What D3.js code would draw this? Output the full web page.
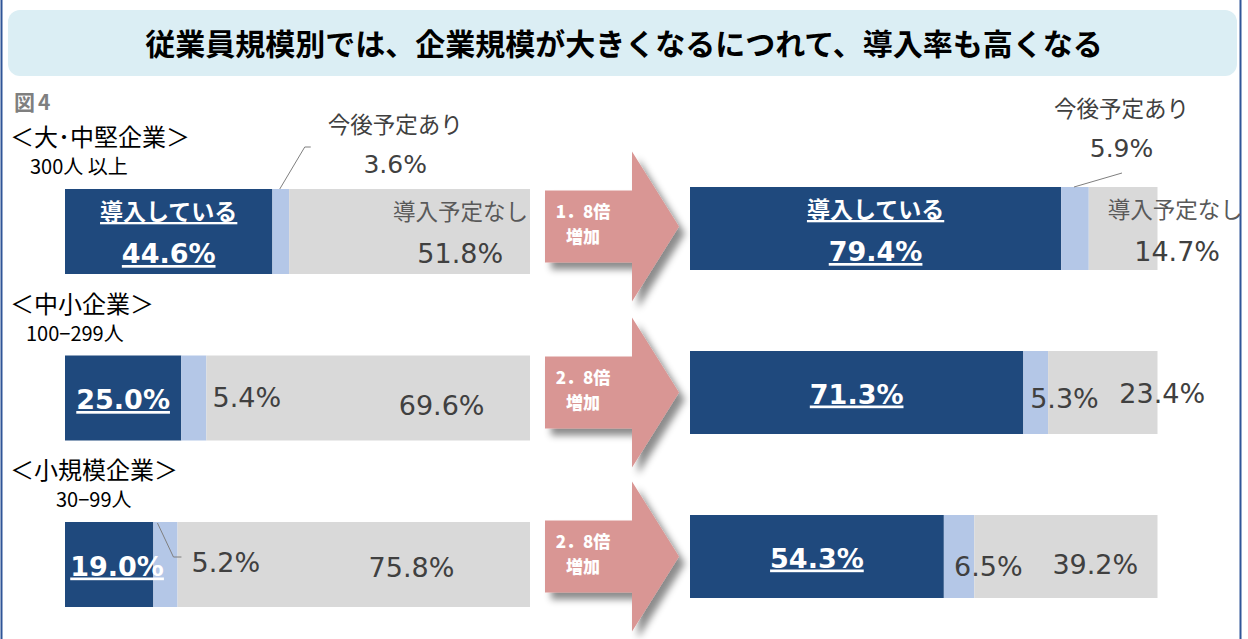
<!DOCTYPE html>
<html>
<head>
<meta charset="utf-8">
<script src="https://cdn.jsdelivr.net/npm/d3@7"></script>
<style>
  body { margin: 0; background: #fff; }
  svg { display: block; font-family: "Noto Sans CJK JP", sans-serif; }
</style>
</head>
<body>
<script>
// chart values
const title = '従業員規模別では、企業規模が大きくなるにつれて、導入率も高くなる';
const categories = ['＜大･中堅企業＞', '＜中小企業＞', '＜小規模企業＞'];
const sizes = ['300人 以上', '100−299人', '30−99人'];
const segments = ['導入している', '今後予定あり', '導入予定なし'];
const before = [[44.6, 3.6, 51.8], [25.0, 5.4, 69.6], [19.0, 5.2, 75.8]];
const after = [[79.4, 5.9, 14.7], [71.3, 5.3, 23.4], [54.3, 6.5, 39.2]];
const ratios = ['1．8倍', '2．8倍', '2．8倍'];

const W = 1248, H = 639;
const colors = ['#1f497d', '#b4c7e7', '#d9d9d9'];
const numFont = '"DejaVu Sans", sans-serif';
const fmt = v => d3.format('.1f')(v) + '%';

const svg = d3.select('body').append('svg')
  .attr('width', W).attr('height', H);

const defs = svg.append('defs');
const shadow = defs.append('filter').attr('id', 'shadow')
  .attr('x', '-20%').attr('y', '-20%').attr('width', '150%').attr('height', '150%');
shadow.append('feDropShadow')
  .attr('dx', 6).attr('dy', 7).attr('stdDeviation', 3.5)
  .attr('flood-color', '#000').attr('flood-opacity', 0.45);

// frame + title
[1.5, 1240.5].forEach(fx => {
  svg.append('line').attr('x1', fx).attr('x2', fx).attr('y1', 0).attr('y2', H)
    .attr('stroke', '#2f5597').attr('stroke-width', 2);
});

svg.append('rect')
  .attr('x', 8).attr('y', 10).attr('width', 1229).attr('height', 66)
  .attr('rx', 12).attr('fill', '#dbeef4');
svg.append('text')
  .attr('x', 624).attr('y', 55).attr('text-anchor', 'middle')
  .attr('font-size', 30).attr('font-weight', 700).attr('fill', '#000')
  .text(title);

svg.append('text').attr('x', 14).attr('y', 110)
  .attr('font-size', 21).attr('font-weight', 700).attr('fill', '#7f7f7f')
  .attr('letter-spacing', 3)
  .text('図4');

// scales
const xL = d3.scaleLinear().domain([0, 100]).range([65, 530]);
const xR = d3.scaleLinear().domain([0, 100]).range([690, 1157.5]);
const yL = d3.scaleLinear().domain([0, 1]).range([189, 355.5]);
const yR = d3.scaleLinear().domain([0, 1]).range([187, 351]);
const hL = 85, hR = 83;

// where the small labels sit, in percent units of each bar
const labelPos = {
  left: [
    {mid: [0, 71, 85], dy: [0, 0, 0]},
    {mid: [0, 39.1, 81], dy: [0, -2, 6]},
    {mid: [1.7, 34.6, 74.5], dy: [0, -4, 1]}
  ],
  right: [
    {mid: [0, 92.3, 104.2], dy: [0, 0, 0]},
    {mid: [0, 80.1, 101], dy: [0, 4, -1]},
    {mid: [0, 63.8, 86.7], dy: [0, 8, 6]}
  ]
};

categories.forEach((c, i) => {
  const top = yL(i);
  svg.append('text').attr('x', 10).attr('y', top - 43)
    .attr('font-size', 24).attr('fill', '#000').text(c);
  svg.append('text').attr('x', i === 2 ? 56 : (i === 1 ? 26 : 30)).attr('y', top - 15)
    .attr('font-size', 20).attr('fill', '#000').text(sizes[i]);
});

function stack(vals) {
  let acc = 0;
  return vals.map((v, k) => {
    const d = {k, v, x0: acc, x1: acc + v};
    acc += v;
    return d;
  });
}

function drawBars(data, x, y, h, side) {
  data.forEach((vals, i) => {
    const top = y(i);
    const g = svg.append('g');
    const st = stack(vals);
    g.selectAll('rect').data(st).join('rect')
      .attr('x', d => x(d.x0))
      .attr('y', top)
      .attr('width', d => x(d.x1) - x(d.x0))
      .attr('height', h)
      .attr('fill', d => colors[d.k]);

    const pos = labelPos[side][i];
    // dark label centred on its segment, nudged where the segment is narrow
    const midDark = x(st[0].x0 + st[0].v / 2 + pos.mid[0]);

    if (i === 0) {
      g.append('text').attr('x', midDark).attr('y', top + 31)
        .attr('text-anchor', 'middle').attr('font-size', 23).attr('font-weight', 700)
        .attr('fill', '#fff').style('text-decoration', 'underline')
        .text(segments[0]);
      g.append('text').attr('x', midDark).attr('y', top + 74)
        .attr('text-anchor', 'middle').attr('font-size', 27).attr('font-weight', 700)
        .attr('font-family', numFont)
        .attr('fill', '#fff').style('text-decoration', 'underline')
        .text(fmt(vals[0]));

      // 今後予定あり callout above
      const lx = x(pos.mid[1]);
      const aTop = side === 'left' ? top - 56 : top - 70;
      svg.append('text').attr('x', lx).attr('y', aTop)
        .attr('text-anchor', 'middle').attr('font-size', 22.5).attr('fill', '#404040')
        .text(segments[1]);
      svg.append('text').attr('x', lx).attr('y', aTop + 40)
        .attr('text-anchor', 'middle').attr('font-size', 25).attr('fill', '#404040')
        .attr('font-family', numFont)
        .text(fmt(vals[1]));
      const sx = x(st[1].x0 + st[1].v / 2) - 1;
      const path = side === 'left'
        ? [[sx, top], [sx + 25, top - 42], [sx + 31, top - 42]]
        : [[sx, top], [sx + 48, top - 14]];
      svg.append('path').attr('d', d3.line()(path))
        .attr('fill', 'none').attr('stroke', '#7f7f7f').attr('stroke-width', 1);

      // 導入予定なし
      const nx = side === 'left' ? x(100) - 2 : x(st[2].x0) + 19;
      g.append('text').attr('x', nx).attr('y', top + 31)
        .attr('text-anchor', side === 'left' ? 'end' : 'start')
        .attr('font-size', 22.5).attr('fill', '#595959')
        .text(segments[2]);
      g.append('text').attr('x', x(pos.mid[2])).attr('y', top + 74)
        .attr('text-anchor', 'middle').attr('font-size', 27).attr('fill', '#404040')
        .attr('font-family', numFont)
        .text(fmt(vals[2]));
    } else {
      g.append('text').attr('x', midDark).attr('y', top + h / 2 + 11)
        .attr('text-anchor', 'middle').attr('font-size', 27).attr('font-weight', 700)
        .attr('font-family', numFont)
        .attr('fill', '#fff').style('text-decoration', 'underline')
        .text(fmt(vals[0]));
      [1, 2].forEach(k => {
        g.append('text').attr('x', x(pos.mid[k])).attr('y', top + h / 2 + 11 + pos.dy[k])
          .attr('text-anchor', 'middle').attr('font-size', 27).attr('fill', '#404040')
          .attr('font-family', numFont)
          .text(fmt(vals[k]));
      });
      if (side === 'left' && i === 2) {
        const sx = x(st[1].x0 + st[1].v / 2) - 8;
        svg.append('path')
          .attr('d', d3.line()([[sx, top + 1], [sx + 16, top + 35], [sx + 24, top + 35]]))
          .attr('fill', 'none').attr('stroke', '#7f7f7f').attr('stroke-width', 1);
      }
    }
  });
}

drawBars(before, xL, yL, hL, 'left');
drawBars(after, xR, yR, hR, 'right');

// arrows
const arrowShape = (cy) => {
  const x0 = 545, xh = 632, xt = 679, sh = 36, hh = 75;
  return d3.line()([
    [x0, cy - sh], [xh, cy - sh], [xh, cy - hh], [xt, cy],
    [xh, cy + hh], [xh, cy + sh], [x0, cy + sh]
  ]) + 'Z';
};

ratios.forEach((r, i) => {
  const cy = yR(i) + hR / 2 + (i === 0 ? -2 : 0);
  svg.append('path').attr('d', arrowShape(cy))
    .attr('fill', '#d99694').attr('filter', 'url(#shadow)');
  svg.append('text').attr('x', 583).attr('y', cy - 9)
    .attr('text-anchor', 'middle').attr('font-size', 17).attr('font-weight', 900)
    .attr('fill', '#fff').text(r);
  svg.append('text').attr('x', 583).attr('y', cy + 16)
    .attr('text-anchor', 'middle').attr('font-size', 17).attr('font-weight', 900)
    .attr('fill', '#fff').text('増加');
});
</script>
</body>
</html>
